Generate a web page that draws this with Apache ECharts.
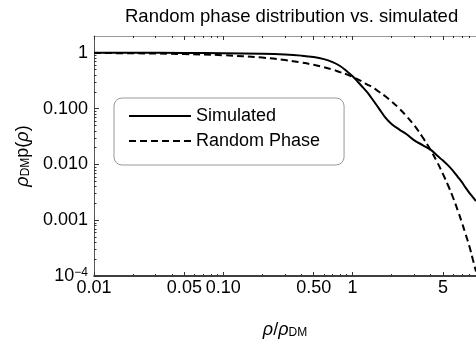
<!DOCTYPE html>
<html><head><meta charset="utf-8">
<script src="https://cdn.jsdelivr.net/npm/echarts@6/dist/echarts.min.js"></script>
<style>html,body{margin:0;padding:0;background:#fff}#c{width:476px;height:345px}</style>
</head><body><div id="c"></div>
<script>
const rho = [0.01,0.02,0.05,0.1,0.2,0.3,0.4,0.5,0.6,0.7,0.8,0.9,1.0,1.1,1.2,1.3,1.4,1.6,1.8,2.0,2.3,2.6,3.0,3.5,4.0,4.5,5,5.5,6,6.5,7,7.5,8,8.5,9];
const simulated = [1.0,1.0,0.995,0.985,0.96,0.93,0.89,0.84,0.77,0.68,0.58,0.47,0.38,0.30,0.24,0.195,0.155,0.10,0.068,0.053,0.042,0.035,0.027,0.022,0.0184,0.0145,0.0117,0.0095,0.0076,0.0060,0.0048,0.0038,0.0031,0.0026,0.0022];
const randomPhase = [0.99,0.98,0.95,0.905,0.82,0.74,0.67,0.61,0.55,0.50,0.45,0.41,0.37,0.333,0.30,0.27,0.247,0.20,0.165,0.135,0.10,0.074,0.050,0.030,0.0183,0.0111,0.0067,0.0041,0.0025,0.0015,0.00091,0.00055,0.00034,0.0002,0.00012];
const xMajorTicks = [0.01,0.05,0.1,0.5,1,5];
const xMajorLabels = ['0.01','0.05','0.10','0.50','1','5'];
const xMinorTicks = [0.02,0.03,0.04,0.06,0.07,0.08,0.09,0.2,0.3,0.4,0.6,0.7,0.8,0.9,2,3,4,6,7,8,9];
const yMajorTicks = [0.0001,0.001,0.01,0.1,1];
const yMajorLabels = ['{b|10}{sup|−4}','0.001','0.010','0.100','1'];
const yMinorTicks = [2e-4,3e-4,4e-4,5e-4,6e-4,7e-4,8e-4,9e-4,2e-3,3e-3,4e-3,5e-3,6e-3,7e-3,8e-3,9e-3,0.02,0.03,0.04,0.05,0.06,0.07,0.08,0.09,0.2,0.3,0.4,0.5,0.6,0.7,0.8,0.9];

const FONT = 'Liberation Sans';
function lookup(ticks, labels, v) {
  for (let i = 0; i < ticks.length; i++) {
    if (Math.abs(Math.log10(ticks[i]) - Math.log10(v)) < 1e-4) return labels[i];
  }
  return '';
}
const xBase = {type:'log', logBase:10, min:0.01, max:9, gridIndex:0, splitLine:{show:false}};
const yBase = {type:'log', logBase:10, min:1e-4, max:2, gridIndex:0, splitLine:{show:false}};
const tickStyle = {color:'#333', width:1};

const chart = echarts.init(document.getElementById('c'), null, {renderer:'canvas'});
chart.setOption({
  animation:false,
  backgroundColor:'#fff',
  title:{text:'Random phase distribution vs. simulated', left:120, top:2,
    textStyle:{fontFamily:FONT, fontSize:18.5, fontWeight:'normal', color:'#000'}},
  grid:{left:94, right:0, top:36, bottom:69},
  legend:{orient:'vertical', left:114, top:98, padding:[9,24,15,14],
    itemWidth:62, itemHeight:14, itemGap:7, itemTextGap:5,
    itemStyle:{opacity:0},
    borderColor:'#999', borderWidth:1, borderRadius:8, backgroundColor:'#fff',
    textStyle:{fontFamily:FONT, fontSize:18, color:'#000'},
    data:['Simulated','Random Phase']},
  xAxis:[
    Object.assign({}, xBase, {position:'bottom',
      axisLine:{show:true, onZero:false, lineStyle:{color:'#000', width:1.5}},
      axisTick:{show:true, inside:true, length:4, customValues:xMajorTicks, lineStyle:tickStyle},
      axisLabel:{show:true, customValues:xMajorTicks, margin:3, fontFamily:FONT, fontSize:18, color:'#000',
        formatter:v=>lookup(xMajorTicks, xMajorLabels, v)},
      name:'{i|ρ}{n|/}{i|ρ}{sub|DM}', nameLocation:'middle', nameGap:45,
      nameTextStyle:{fontFamily:FONT, fontSize:18, color:'#000',
        rich:{i:{fontFamily:FONT, fontSize:18, fontStyle:'italic', color:'#000'},
              n:{fontFamily:FONT, fontSize:18, color:'#000'},
              sub:{fontFamily:FONT, fontSize:12, color:'#000', verticalAlign:'bottom'}}}}),
    Object.assign({}, xBase, {position:'bottom',
      axisLine:{show:false, onZero:false},
      axisTick:{show:true, inside:true, length:2, customValues:xMinorTicks, lineStyle:tickStyle},
      axisLabel:{show:false}}),
    Object.assign({}, xBase, {position:'top',
      axisLine:{show:true, onZero:false, lineStyle:{color:'#999', width:1}},
      axisTick:{show:true, inside:true, length:4, customValues:xMajorTicks, lineStyle:tickStyle},
      axisLabel:{show:false}}),
    Object.assign({}, xBase, {position:'top',
      axisLine:{show:false, onZero:false},
      axisTick:{show:true, inside:true, length:2, customValues:xMinorTicks, lineStyle:tickStyle},
      axisLabel:{show:false}})
  ],
  yAxis:[
    Object.assign({}, yBase, {position:'left',
      axisLine:{show:true, onZero:false, lineStyle:{color:'#555', width:1}},
      axisTick:{show:true, inside:true, length:5, customValues:yMajorTicks, lineStyle:tickStyle},
      axisLabel:{show:true, customValues:yMajorTicks, margin:6, fontFamily:FONT, fontSize:18, color:'#000',
        formatter:v=>lookup(yMajorTicks, yMajorLabels, v),
        rich:{b:{fontFamily:FONT, fontSize:18, color:'#000'},
              sup:{fontFamily:FONT, fontSize:12, color:'#000', verticalAlign:'top'}}},
      name:'{i|ρ}{sub|DM}{n|p(}{i|ρ}{n|)}', nameLocation:'middle', nameGap:61, nameRotate:90,
      nameTextStyle:{fontFamily:FONT, fontSize:18, color:'#000',
        rich:{i:{fontFamily:FONT, fontSize:18, fontStyle:'italic', color:'#000'},
              n:{fontFamily:FONT, fontSize:18, color:'#000'},
              sub:{fontFamily:FONT, fontSize:12, color:'#000', verticalAlign:'bottom'}}}}),
    Object.assign({}, yBase, {position:'left',
      axisLine:{show:false, onZero:false},
      axisTick:{show:true, inside:true, length:2.5, customValues:yMinorTicks, lineStyle:tickStyle},
      axisLabel:{show:false}})
  ],
  series:[
    {name:'Simulated', type:'line', xAxisIndex:0, yAxisIndex:0, symbol:'none', smooth:0.4,
     lineStyle:{color:'#000', width:2, type:'solid'}, itemStyle:{color:'#000'},
     data:rho.map((x,i)=>[x, simulated[i]])},
    {name:'Random Phase', type:'line', xAxisIndex:0, yAxisIndex:0, symbol:'none', smooth:0.4,
     lineStyle:{color:'#000', width:2, type:[7,4]}, itemStyle:{color:'#000'},
     data:rho.map((x,i)=>[x, randomPhase[i]])}
  ]
});
</script>
</body></html>
